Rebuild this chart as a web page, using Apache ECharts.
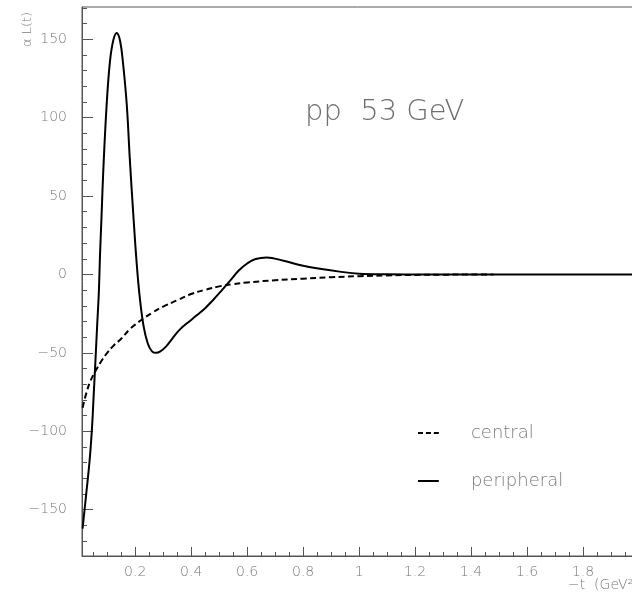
<!DOCTYPE html>
<html>
<head>
<meta charset="utf-8">
<script src="https://cdn.jsdelivr.net/npm/echarts@6/dist/echarts.min.js"></script>
<style>
html,body{margin:0;padding:0;background:#fff;}
#c{width:632px;height:597px;}
</style>
</head>
<body>
<div id="c"></div>
<script>
// ---- data ----
var centralT = [0.012, 0.025, 0.04, 0.06, 0.08, 0.1, 0.125, 0.15, 0.18, 0.2, 0.23, 0.26, 0.3, 0.35, 0.4, 0.45, 0.5, 0.55, 0.6, 0.7, 0.8, 0.9, 1.0, 1.1, 1.2, 1.3, 1.4, 1.48];
var centralL = [-85, -76, -68, -61, -55, -50, -45, -41, -35, -32, -28, -24.5, -20.5, -16.5, -12.5, -9.8, -7.6, -6.2, -5.1, -3.7, -2.7, -1.8, -1.1, -0.6, -0.3, -0.15, -0.05, 0];
var peripheralT = [0.012, 0.025, 0.0375, 0.046, 0.052, 0.058, 0.064, 0.07, 0.0745, 0.08, 0.086, 0.098, 0.11, 0.122, 0.134, 0.146, 0.157, 0.17, 0.181, 0.193, 0.205, 0.216, 0.23, 0.245, 0.26, 0.275, 0.29, 0.31, 0.33, 0.36, 0.4, 0.42, 0.45, 0.48, 0.51, 0.54, 0.57, 0.6, 0.63, 0.67, 0.73, 0.8, 0.86, 0.93, 1.0, 1.1, 1.2, 1.5, 2.0];
var peripheralL = [-162, -140, -118, -97, -76, -55, -33, -12, 13, 38, 66, 108, 136, 149.5, 154, 149, 134, 108, 73, 39, 8, -14, -33, -44, -49, -50, -49, -46, -41.5, -35, -29, -26, -21.5, -16, -10, -3.8, 2.5, 7, 9.8, 10.8, 8.7, 5.5, 3.6, 1.8, 0.5, 0.1, 0, 0, 0];
var xMajorTicks = [0.2, 0.4, 0.6, 0.8, 1, 1.2, 1.4, 1.6, 1.8, 2.0];
var xMajorLabels = ['0.2', '0.4', '0.6', '0.8', '1', '1.2', '1.4', '1.6', '1.8', ''];
var xMinorTicks = [0.05,0.1,0.15,0.25,0.3,0.35,0.45,0.5,0.55,0.65,0.7,0.75,0.85,0.9,0.95,1.05,1.1,1.15,1.25,1.3,1.35,1.45,1.5,1.55,1.65,1.7,1.75,1.85,1.9,1.95];
var yMajorTicks = [-150, -100, -50, 0, 50, 100, 150];
var yMinorTicks = [-170,-160,-140,-130,-120,-110,-90,-80,-70,-60,-40,-30,-20,-10,10,20,30,40,60,70,80,90,110,120,130,140,160,170];
var seriesNames = ['central', 'peripheral'];
var titleText = 'pp  53 GeV';
var yTitle = '\u03b1 L(t)';
var xTitle = '\u2212t  (GeV\u00b2)';

function pairs(xs, ys){ return xs.map(function(x,i){ return [x, ys[i]]; }); }

var chart = echarts.init(document.getElementById('c'), null, {renderer:'canvas'});
var FONT = '"DejaVu Sans", sans-serif';
var labelColor = '#7a7a7a';
var axisColor = '#555';
var option = {
  animation:false,
  backgroundColor:'#fff',
  grid:{left:82, top:7, right:-7, bottom:41, containLabel:false, outerBoundsMode:'none', show:true, borderColor:axisColor, borderWidth:1, backgroundColor:'transparent'},
  xAxis:[{
    type:'value', min:0.01, max:2.0, position:'bottom',
    axisLine:{show:true, onZero:false, lineStyle:{color:axisColor, width:1}},
    axisTick:{show:true, inside:true, length:9, customValues:xMajorTicks, lineStyle:{color:axisColor}},
    axisLabel:{show:true, margin:9, customValues:xMajorTicks, formatter:function(v){ var i = xMajorTicks.indexOf(+(+v).toFixed(2)); return i>=0 ? xMajorLabels[i] : ''; }, color:labelColor, fontSize:14, fontFamily:FONT, fontWeight:200},
    splitLine:{show:false}
  },{
    type:'value', min:0.01, max:2.0, position:'bottom',
    axisLine:{show:false, onZero:false},
    axisTick:{show:true, inside:true, length:4, customValues:xMinorTicks, lineStyle:{color:axisColor}},
    axisLabel:{show:false},
    splitLine:{show:false}
  }],
  yAxis:[{
    type:'value', min:-179.5, max:170.5, position:'left',
    axisLine:{show:true, onZero:false, lineStyle:{color:axisColor, width:1}},
    axisTick:{show:true, inside:true, length:11, customValues:yMajorTicks, lineStyle:{color:axisColor}},
    axisLabel:{show:true, margin:15, customValues:yMajorTicks, formatter:function(v){ return v<0 ? '\u2212'+Math.abs(v) : String(v); }, color:labelColor, fontSize:14, fontFamily:FONT, fontWeight:200},
    splitLine:{show:false}
  },{
    type:'value', min:-179.5, max:170.5, position:'left',
    axisLine:{show:false, onZero:false},
    axisTick:{show:true, inside:true, length:5, customValues:yMinorTicks, lineStyle:{color:axisColor}},
    axisLabel:{show:false},
    splitLine:{show:false}
  }],
  legend:{
    orient:'vertical', left:413, top:419, itemWidth:25, itemHeight:2, itemGap:30,
    data:[
      {name:seriesNames[0], icon:'path://M0 0H6V2.4H0Z M9.5 0H15.5V2.4H9.5Z M19 0H25V2.4H19Z'},
      {name:seriesNames[1], icon:'path://M0 0H25V2.4H0Z'}
    ],
    textStyle:{color:labelColor, fontSize:18, fontFamily:FONT, fontWeight:200, padding:[0,0,8,25]}
  },
  graphic:[
    {type:'text', x:305, y:112, style:{text:titleText, fill:'#6e6e6e', fontSize:29, fontFamily:FONT, fontWeight:200, textAlign:'left', textVerticalAlign:'middle', verticalAlign:'middle'}},
    {type:'text', x:28, y:47, rotation:Math.PI/2, style:{text:yTitle, fill:labelColor, fontSize:13, fontFamily:FONT, fontWeight:200, textAlign:'left', verticalAlign:'middle', textVerticalAlign:'middle'}},
    {type:'text', x:568, y:585, style:{text:xTitle, fill:labelColor, fontSize:14, fontFamily:FONT, fontWeight:200, textAlign:'left', verticalAlign:'middle', textVerticalAlign:'middle'}}
  ],
  series:[
    {name:seriesNames[0], type:'line', data:pairs(centralT, centralL), showSymbol:false, symbol:'none', smooth:0.4, xAxisIndex:0, yAxisIndex:0,
     lineStyle:{color:'#000', width:2, type:[6,3.5]}, itemStyle:{color:'#000'}},
    {name:seriesNames[1], type:'line', data:pairs(peripheralT, peripheralL), showSymbol:false, symbol:'none', smooth:0.4, xAxisIndex:0, yAxisIndex:0,
     lineStyle:{color:'#000', width:2}, itemStyle:{color:'#000'}, z:3}
  ]
};
chart.setOption(option);
</script>
</body>
</html>
